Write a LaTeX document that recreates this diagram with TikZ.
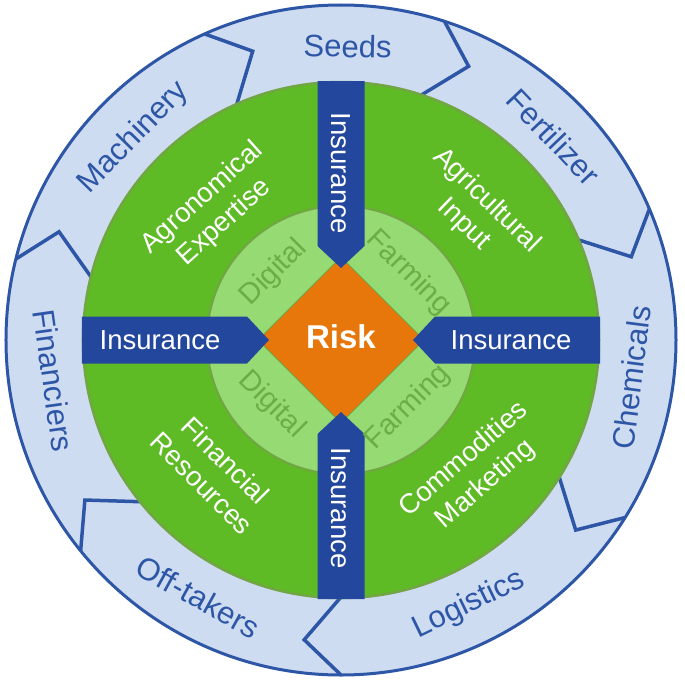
\documentclass[tikz,border=0pt]{standalone}
\usepackage{fontspec}
\setmainfont{Liberation Sans}
\definecolor{ringBlue} {HTML}{2D56A6}
\definecolor{ringFill} {HTML}{CEDCF2}
\definecolor{insC}     {HTML}{23479C}
\definecolor{fieldC}   {HTML}{5EBA25}
\definecolor{fieldLine}{HTML}{72A543}
\definecolor{coreFill} {HTML}{95DA72}
\definecolor{coreInk}  {HTML}{6AAE45}
\definecolor{riskC}    {HTML}{E8770B}
\tikzset{
  ringLabel/.style={font=\fontsize{31}{36}\selectfont,text=ringBlue,inner sep=0pt},
  fieldLabel/.style={font=\fontsize{27.5}{33}\selectfont,text=white,align=center,inner sep=0pt},
  coreLabel/.style={font=\fontsize{29}{34}\selectfont,text=coreInk,inner sep=0pt},
  insLabel/.style={font=\fontsize{27.5}{32}\selectfont,text=white,inner sep=0pt},
  riskLabel/.style={font=\fontsize{33}{38}\selectfont\bfseries,text=white,inner sep=0pt},
  chevron/.style={draw=ringBlue,line width=3.5pt,line join=miter,line cap=butt},
  insArrow/.style={fill=insC},
}

\begin{document}
\begin{tikzpicture}[x=1pt,y=1pt]
\useasboundingbox (-341,-341) rectangle (344,340);

% Outer supply ring with chevron separators.
\fill[ringFill] (0,0) circle[radius=335];
\draw[ringBlue,line width=3pt] (0,0) circle[radius=335];
\foreach \a/\b in {114/107,72/65,23/16,-32/-39,-90/-97,-141/-148,166/159} {
  \draw[chevron] (\a:335) -- (\b:302) -- (\a:257);
}

% Green field, core ring and risk diamond.
\filldraw[fill=fieldC,draw=fieldLine,line width=2.5pt] (0,0) circle[radius=258];
\filldraw[fill=coreFill,draw=fieldLine,line width=2pt] (0,0) circle[radius=134];
\filldraw[fill=riskC,draw=fieldLine,line width=0.8pt]
  (83,0) -- (0,83) -- (-83,0) -- (0,-83) -- cycle;

% Insurance arrows pointing to the centre.
\foreach \a in {0,90,180,270} {
  \fill[insArrow,rotate=\a]
    (259,23.5) -- (94,23.5) -- (72,0) -- (94,-23.5) -- (259,-23.5) -- cycle;
}

\node[riskLabel] (risk) at (0,3) {Risk};

\node[insLabel]            (insE) at (0:170)   {Insurance};
\node[insLabel]            (insW) at (180:181) {Insurance};
\node[insLabel,rotate=-90] (insN) at (90:167)  {Insurance};
\node[insLabel,rotate=-90] (insS) at (-90:168) {Insurance};

\node[coreLabel,rotate=45]  (digNW)  at (135:95)  {Digital};
\node[coreLabel,rotate=-45] (farmNE) at (45:95)   {Farming};
\node[coreLabel,rotate=-45] (digSW)  at (-137:95) {Digital};
\node[coreLabel,rotate=45]  (farmSE) at (-45:95)  {Farming};

\node[fieldLabel,rotate=42]  (agro) at (134.5:182) {Agronomical\\Expertise};
\node[fieldLabel,rotate=-44] (agri) at (43.5:185)  {Agricultural\\Input};
\node[fieldLabel,rotate=-45] (fin)  at (-134:183)  {Financial\\Resources};
\node[fieldLabel,rotate=41]  (comm) at (-44.6:188) {Commodities\\Marketing};

\node[ringLabel,rotate=-1.3]  (seeds) at (88.7:294)   {Seeds};
\node[ringLabel,rotate=45.7]  (mach)  at (135.7:290)  {Machinery};
\node[ringLabel,rotate=-46.4] (fert)  at (43.6:294)   {Fertilizer};
\node[ringLabel,rotate=82.6]  (chem)  at (-7.4:293)   {Chemicals};
\node[ringLabel,rotate=25.8]  (logi)  at (-64.2:294)  {Logistics};
\node[ringLabel,rotate=-29]   (off)   at (-119:294)   {Off-takers};
\node[ringLabel,rotate=-82]   (finc)  at (-172:290)   {Financiers};

\end{tikzpicture}
\end{document}
